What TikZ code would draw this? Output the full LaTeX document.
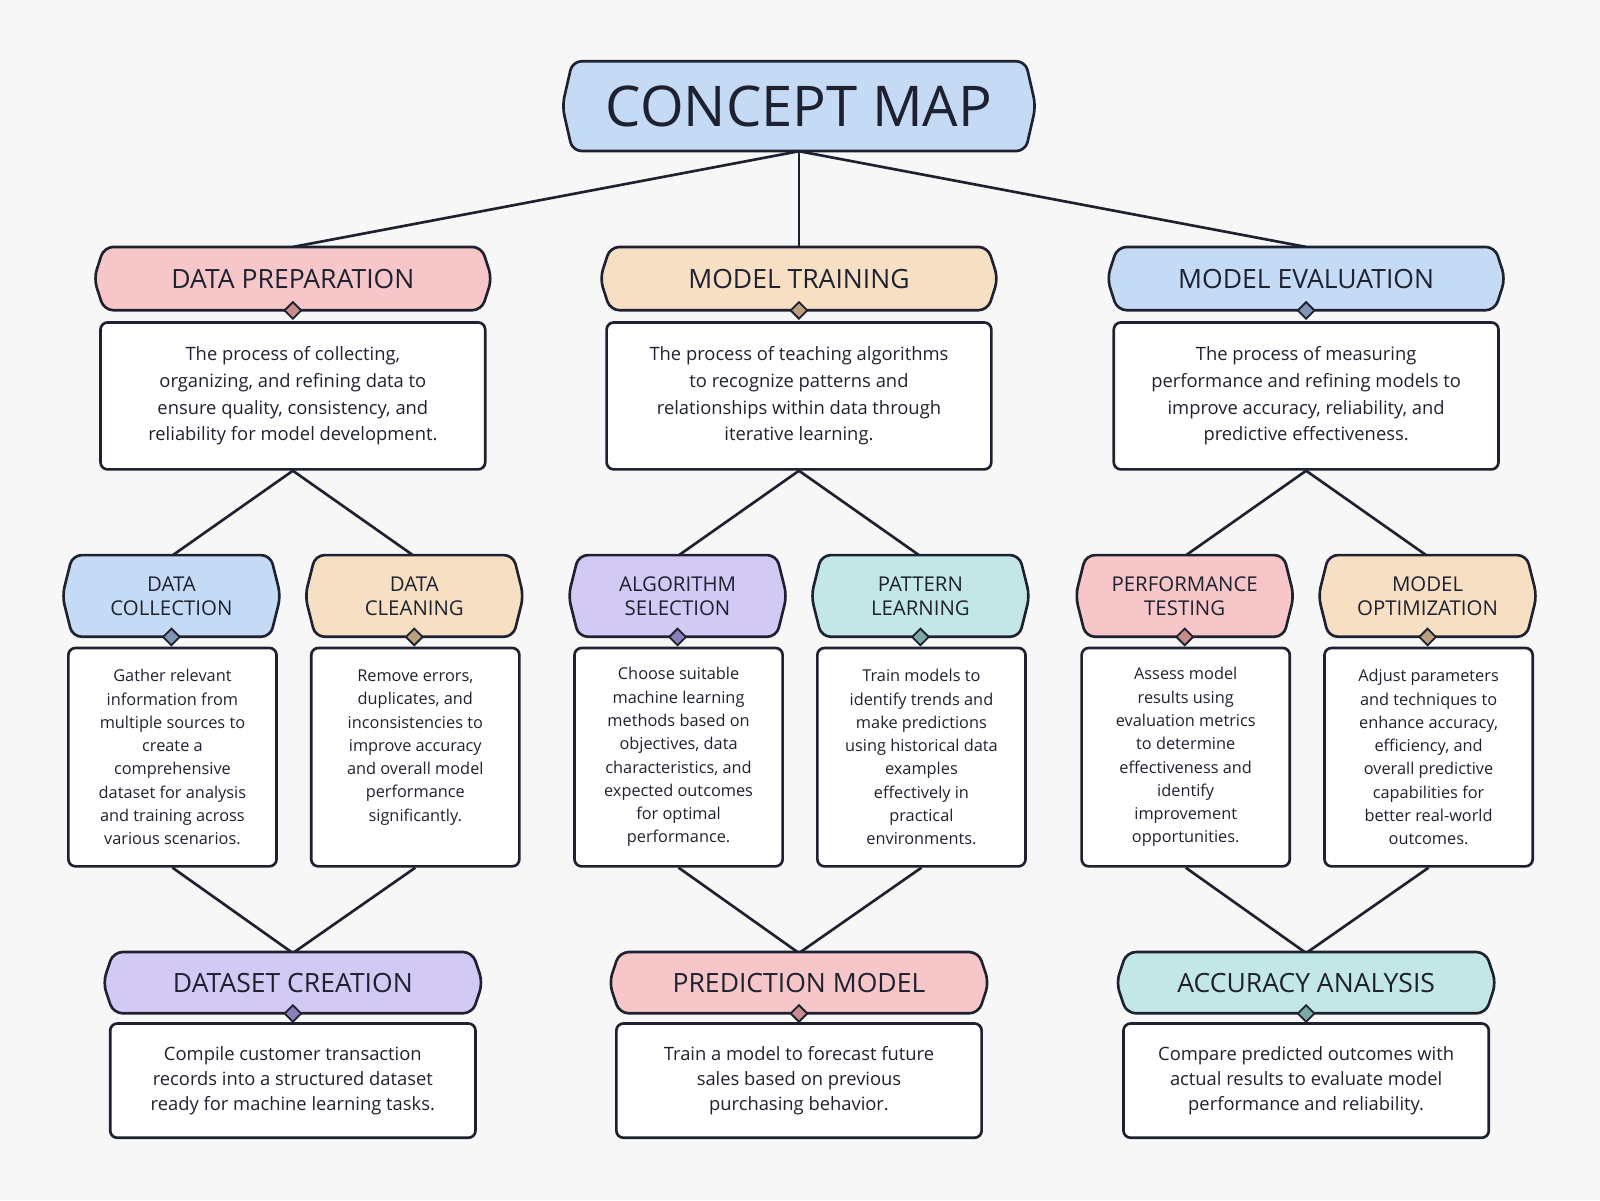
\documentclass[tikz,border=0pt]{standalone}
\usepackage{fontspec}
\setmainfont{Open Sans}
\usetikzlibrary{shapes.geometric}
\definecolor{bg}{HTML}{F7F7F7}
\definecolor{ink}{HTML}{1E2230}
\definecolor{cblue}{HTML}{C5DAF5}
\definecolor{cpink}{HTML}{F6C6C8}
\definecolor{cpeach}{HTML}{F6DFC3}
\definecolor{cpurple}{HTML}{D2C9F5}
\definecolor{cteal}{HTML}{C3E7E7}
\definecolor{dblue}{HTML}{7F95B3}
\definecolor{dpink}{HTML}{C98C8C}
\definecolor{dpeach}{HTML}{BBA07F}
\definecolor{dpurple}{HTML}{8A80B8}
\definecolor{dteal}{HTML}{7EA8A6}
\tikzset{
  hexline/.style={draw=ink,line width=2.6pt,rounded corners=9pt},
  desc/.style={draw=ink,line width=2.6pt,fill=white,rounded corners=7pt,align=center,text=ink,inner sep=0pt},
  hlab/.style={align=center,text=ink,font=\bfseries,inner sep=0pt},
  link/.style={draw=ink,line width=2.6pt},
  dia/.style={diamond,draw=ink,line width=1.8pt,minimum size=17pt,inner sep=0pt},
}
% #1 name, #2 cx, #3 cy, #4 half width, #5 half height, #6 fill, #7 font, #8 text
\newcommand{\hexnode}[8]{%
  \path[hexline,fill=#6] (#2-#4+10,#3-#5) -- (#2+#4-10,#3-#5) -- (#2+#4,#3) -- (#2+#4-10,#3+#5) -- (#2-#4+10,#3+#5) -- (#2-#4,#3) -- cycle;
  \node[hlab,font=#7,minimum width=2*#4,minimum height=2*#5] (#1) at (#2,#3) {#8};}
\newcommand{\dianode}[3]{\node[dia,fill=#3] (#1) at (#2) {};}
\begin{document}
\begin{tikzpicture}[x=1pt,y=-1pt]
\fill[bg] (0,0) rectangle (1568,1176);
\useasboundingbox (0,0) rectangle (1568,1176);
% description boxes
\def\lvlA{\fontsize{18}{26}\selectfont}
\def\lvlB{\fontsize{16}{22.8}\selectfont}
\def\lvlC{\fontsize{18}{24.5}\selectfont}
\node[desc,font=\lvlA,minimum width=377pt,minimum height=144pt] (dpd) at (287,388) {The process of collecting,\\organizing, and refining data to\\ensure quality, consistency, and\\reliability for model development.};
\node[desc,font=\lvlA,minimum width=377pt,minimum height=144pt] (mtd) at (783,388) {The process of teaching algorithms\\to recognize patterns and\\relationships within data through\\iterative learning.};
\node[desc,font=\lvlA,minimum width=377pt,minimum height=144pt] (med) at (1280,388) {The process of measuring\\performance and refining models to\\improve accuracy, reliability, and\\predictive effectiveness.};
% links
\hexnode{cm}{783}{104}{232}{44}{cblue}{\fontsize{55}{60}\selectfont}{CONCEPT MAP}
\draw[link] (cm.south) -- (783,242) coordinate (dpt0);
\draw[link] (cm.south) -- (287,242);
\draw[link] (cm.south) -- (1280,242);
\hexnode{dp}{287}{273}{195}{31}{cpink}{\fontsize{26}{30}\selectfont}{DATA PREPARATION}
\hexnode{mt}{783}{273}{195}{31}{cpeach}{\fontsize{26}{30}\selectfont}{MODEL TRAINING}
\hexnode{me}{1280}{273}{195}{31}{cblue}{\fontsize{26}{30}\selectfont}{MODEL EVALUATION}
\dianode{dpx}{dp.south}{dpink}
\dianode{mtx}{mt.south}{dpeach}
\dianode{mex}{me.south}{dblue}
% level 2
\def\hB{\fontsize{20}{23.5}\selectfont}
\foreach \p/\c in {dpd/168,dpd/406,mtd/664,mtd/902,med/1161,med/1399}
  \draw[link] (\p.south) -- (\c,545);
\hexnode{dc}{168}{584}{107}{40}{cblue}{\hB}{DATA\\COLLECTION}
\hexnode{dcl}{406}{584}{107}{40}{cpeach}{\hB}{DATA\\CLEANING}
\hexnode{as}{664}{584}{107}{40}{cpurple}{\hB}{ALGORITHM\\SELECTION}
\hexnode{pl}{902}{584}{107}{40}{cteal}{\hB}{PATTERN\\LEARNING}
\hexnode{pt}{1161}{584}{107}{40}{cpink}{\hB}{PERFORMANCE\\TESTING}
\hexnode{mo}{1399}{584}{107}{40}{cpeach}{\hB}{MODEL\\OPTIMIZATION}
\node[desc,font=\lvlB,minimum width=204pt,minimum height=214pt] (dcd) at (169,742) {Gather relevant\\information from\\multiple sources to\\create a\\comprehensive\\dataset for analysis\\and training across\\various scenarios.};
\node[desc,font=\lvlB,minimum width=204pt,minimum height=214pt] (dcld) at (407,742) {\raisebox{0pt}{}Remove errors,\\duplicates, and\\inconsistencies to\\improve accuracy\\and overall model\\performance\\significantly.\\\phantom{x}};
\node[desc,font=\lvlB,minimum width=204pt,minimum height=214pt] (asd) at (665,742) {Choose suitable\\machine learning\\methods based on\\objectives, data\\characteristics, and\\expected outcomes\\for optimal\\performance.};
\node[desc,font=\lvlB,minimum width=204pt,minimum height=214pt] (pld) at (903,742) {Train models to\\identify trends and\\make predictions\\using historical data\\examples\\effectively in\\practical\\environments.};
\node[desc,font=\lvlB,minimum width=204pt,minimum height=214pt] (ptd) at (1162,742) {Assess model\\results using\\evaluation metrics\\to determine\\effectiveness and\\identify\\improvement\\opportunities.};
\node[desc,font=\lvlB,minimum width=204pt,minimum height=214pt] (mod) at (1400,742) {Adjust parameters\\and techniques to\\enhance accuracy,\\efficiency, and\\overall predictive\\capabilities for\\better real-world\\outcomes.};
\dianode{dcx}{dc.south}{dblue}
\dianode{dclx}{dcl.south}{dpeach}
\dianode{asx}{as.south}{dpurple}
\dianode{plx}{pl.south}{dteal}
\dianode{ptx}{pt.south}{dpink}
\dianode{mox}{mo.south}{dpeach}
% level 3
\foreach \p/\c in {dcd/287,dcld/287,asd/783,pld/783,ptd/1280,mod/1280}
  \draw[link] (\p.south) -- (\c,934);
\hexnode{ds}{287}{963}{186}{30}{cpurple}{\fontsize{26}{30}\selectfont}{DATASET CREATION}
\hexnode{pm}{783}{963}{186}{30}{cpink}{\fontsize{26}{30}\selectfont}{PREDICTION MODEL}
\hexnode{aa}{1280}{963}{186}{30}{cteal}{\fontsize{26}{30}\selectfont}{ACCURACY ANALYSIS}
\node[desc,font=\lvlC,minimum width=358pt,minimum height=112pt] (dsd) at (287,1059) {Compile customer transaction\\records into a structured dataset\\ready for machine learning tasks.};
\node[desc,font=\lvlC,minimum width=358pt,minimum height=112pt] (pmd) at (783,1059) {Train a model to forecast future\\sales based on previous\\purchasing behavior.};
\node[desc,font=\lvlC,minimum width=358pt,minimum height=112pt] (aad) at (1280,1059) {Compare predicted outcomes with\\actual results to evaluate model\\performance and reliability.};
\dianode{dsx}{ds.south}{dpurple}
\dianode{pmx}{pm.south}{dpink}
\dianode{aax}{aa.south}{dteal}
\end{tikzpicture}
\end{document}
